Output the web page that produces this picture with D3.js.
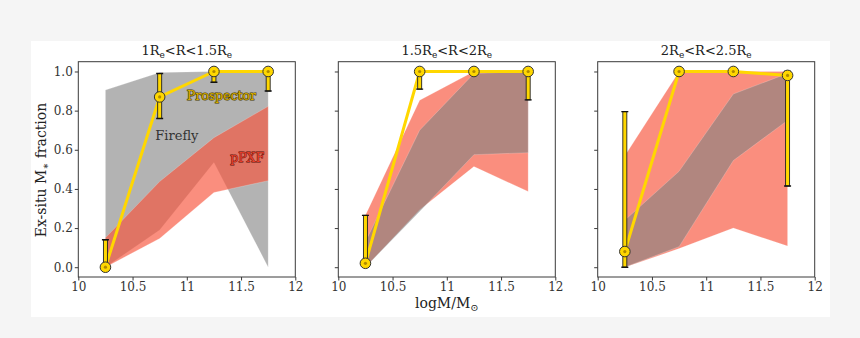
<!DOCTYPE html>
<html>
<head>
<meta charset="utf-8">
<script src="https://cdn.jsdelivr.net/npm/d3@7"></script>
<style>
  html, body { margin: 0; padding: 0; background: #f5f5f5; }
  svg { display: block; }
  text { font-family: "DejaVu Serif", serif; }
</style>
</head>
<body>
<svg id="chart" width="860" height="338"></svg>
<script>
// Stellar-mass bins (log M / M_sun) shared by all three radial panels
const massBins = [10.25, 10.75, 11.25, 11.75];
const panelTitles = [
  ["1R", "e", "<R<1.5R", "e"],
  ["1.5R", "e", "<R<2R", "e"],
  ["2R", "e", "<R<2.5R", "e"]
];
const xTicks = [10, 10.5, 11, 11.5, 12];
const xTickLabels = ["10", "10.5", "11", "11.5", "12"];
const yTicks = [0, 0.2, 0.4, 0.6, 0.8, 1.0];
const yTickLabels = ["0.0", "0.2", "0.4", "0.6", "0.8", "1.0"];

// Prospector ex-situ fractions with asymmetric error ranges
const prospValue = [
  [0.00, 0.87, 1.00, 1.00],
  [0.02, 1.00, 1.00, 1.00],
  [0.08, 1.00, 1.00, 0.98]
];
const prospLow = [
  [0.00, 0.76, 0.945, 0.90],
  [0.02, 0.91, 1.00, 0.855],
  [0.00, 1.00, 1.00, 0.415]
];
const prospHigh = [
  [0.14, 0.99, 1.00, 1.00],
  [0.265, 1.00, 1.00, 1.00],
  [0.795, 1.00, 1.00, 1.00]
];

// Firefly range (grey band)
const fireflyLow = [
  [0.00, 0.19, 0.535, 0.00],
  [0.00, 0.285, 0.575, 0.585],
  [0.00, 0.105, 0.545, 0.75]
];
const fireflyHigh = [
  [0.905, 0.995, 1.00, 1.00],
  [0.13, 0.70, 0.99, 1.00],
  [0.24, 0.49, 0.885, 0.99]
];

// pPXF range (red band)
const ppxfLow = [
  [0.00, 0.147, 0.382, 0.442],
  [0.00, 0.294, 0.514, 0.387],
  [0.00, 0.095, 0.20, 0.108]
];
const ppxfHigh = [
  [0.15, 0.438, 0.662, 0.822],
  [0.266, 0.853, 1.00, 1.00],
  [0.569, 1.00, 1.00, 1.00]
];
// which band sits on top in each panel
const redOnTop = [true, false, false];

const svg = d3.select("#chart");

// white figure area
svg.append("rect").attr("x", 31).attr("y", 41).attr("width", 799).attr("height", 276)
  .attr("fill", "#ffffff");

const panelLeft = [78.3, 338.3, 597.7];
const panelWidth = 217;
const panelTop = 61.7;
const panelHeight = 215.3;

const gold = "#ffd700";

panelLeft.forEach((left, p) => {
  const x = d3.scaleLinear().domain([10, 12]).range([left, left + panelWidth]);
  const y = d3.scaleLinear().domain([-0.05, 1.05]).range([panelTop + panelHeight, panelTop]);
  const g = svg.append("g");

  const clipId = "clip" + p;
  g.append("clipPath").attr("id", clipId).append("rect")
    .attr("x", left).attr("y", panelTop).attr("width", panelWidth).attr("height", panelHeight);
  const plot = g.append("g").attr("clip-path", `url(#${clipId})`);

  const area = (lo, hi) => d3.area()
    .x((d, i) => x(massBins[i]))
    .y0((d, i) => y(lo[i]))
    .y1((d, i) => y(hi[i]))(massBins);

  const drawFirefly = () => plot.append("path")
    .attr("d", area(fireflyLow[p], fireflyHigh[p]))
    .attr("fill", "#808080").attr("fill-opacity", 0.6)
    .attr("stroke", "#ffffff").attr("stroke-opacity", 0.25).attr("stroke-width", 0.8);
  const drawPpxf = () => plot.append("path")
    .attr("d", area(ppxfLow[p], ppxfHigh[p]))
    .attr("fill", "#f8533b").attr("fill-opacity", 0.66)
    .attr("stroke", "#ffffff").attr("stroke-opacity", 0.25).attr("stroke-width", 0.8);

  if (redOnTop[p]) { drawFirefly(); drawPpxf(); } else { drawPpxf(); drawFirefly(); }

  // Prospector connecting line
  plot.append("path")
    .attr("d", d3.line().x((d, i) => x(massBins[i])).y(d => y(d))(prospValue[p]))
    .attr("fill", "none").attr("stroke", gold).attr("stroke-width", 3)
    .attr("stroke-linejoin", "round");

  // error bars: gold bar with dark outline and dark caps
  massBins.forEach((m, i) => {
    const lo = prospLow[p][i], hi = prospHigh[p][i];
    if (hi - lo < 0.005) return;
    const cx = x(m);
    plot.append("rect")
      .attr("x", cx - 2).attr("y", y(hi)).attr("width", 4).attr("height", y(lo) - y(hi))
      .attr("fill", gold).attr("stroke", "#222").attr("stroke-width", 0.9);
    [lo, hi].forEach(v => {
      plot.append("line")
        .attr("x1", cx - 3.5).attr("x2", cx + 3.5).attr("y1", y(v)).attr("y2", y(v))
        .attr("stroke", "#111").attr("stroke-width", 1.4);
    });
  });

  // markers
  massBins.forEach((m, i) => {
    const cx = x(m), cy = y(prospValue[p][i]);
    plot.append("circle").attr("cx", cx).attr("cy", cy).attr("r", 5.3)
      .attr("fill", gold).attr("stroke", "#333").attr("stroke-width", 1);
    plot.append("circle").attr("cx", cx).attr("cy", cy).attr("r", 1.6)
      .attr("fill", "#b08a00");
  });

  // spines
  g.append("rect").attr("x", left).attr("y", panelTop)
    .attr("width", panelWidth).attr("height", panelHeight)
    .attr("fill", "none").attr("stroke", "#3a3a3a").attr("stroke-width", 1);

  // x axis
  const xAxis = d3.axisBottom(x).tickValues(xTicks).tickSize(3.5).tickPadding(2)
    .tickFormat((d, i) => xTickLabels[i]);
  const xg = g.append("g").attr("transform", `translate(0,${panelTop + panelHeight})`).call(xAxis);
  xg.select(".domain").remove();
  xg.selectAll("line").attr("stroke", "#3a3a3a");
  xg.selectAll("text").attr("font-size", 12).attr("fill", "#333")
    .attr("font-family", "DejaVu Serif, serif");

  // y axis (labels only on the first panel)
  const yAxis = d3.axisLeft(y).tickValues(yTicks).tickSize(3.5).tickPadding(2)
    .tickFormat((d, i) => p === 0 ? yTickLabels[i] : "");
  const yg = g.append("g").attr("transform", `translate(${left},0)`).call(yAxis);
  yg.select(".domain").remove();
  yg.selectAll("line").attr("stroke", "#3a3a3a");
  yg.selectAll("text").attr("font-size", 12).attr("fill", "#333")
    .attr("font-family", "DejaVu Serif, serif");

  // title with subscripts
  const t = g.append("text").attr("x", left + panelWidth / 2).attr("y", 55)
    .attr("text-anchor", "middle").attr("font-size", 13).attr("fill", "#222");
  const parts = panelTitles[p];
  t.append("tspan").text(parts[0]);
  t.append("tspan").text(parts[1]).attr("font-size", 9).attr("dy", 3);
  t.append("tspan").text(parts[2]).attr("dy", -3);
  t.append("tspan").text(parts[3]).attr("font-size", 9).attr("dy", 3);

  if (p === 0) {
    g.append("text").attr("x", x(11.0)).attr("y", y(0.853)).text("Prospector")
      .attr("font-size", 12.5).attr("fill", "#d9ae00")
      .attr("stroke", "#4a3c00").attr("stroke-width", 1.1).attr("paint-order", "stroke");
    g.append("text").attr("x", x(10.71)).attr("y", y(0.65)).text("Firefly")
      .attr("font-size", 13).attr("fill", "#333");
    g.append("text").attr("x", x(11.40)).attr("y", y(0.54)).text("pPXF")
      .attr("font-size", 12.5).attr("fill", "#e8402c")
      .attr("stroke", "#5a1008").attr("stroke-width", 0.9).attr("paint-order", "stroke");
  }
});

// y axis label
const yl = svg.append("text").attr("transform", "translate(46,170) rotate(-90)")
  .attr("text-anchor", "middle").attr("font-size", 14).attr("fill", "#222");
yl.append("tspan").text("Ex-situ M");
yl.append("tspan").text("∗").attr("font-size", 10).attr("dy", 3);
yl.append("tspan").text(" fraction").attr("dy", -3);

// x axis label
const xl = svg.append("text").attr("x", 446.8).attr("y", 308)
  .attr("text-anchor", "middle").attr("font-size", 14).attr("fill", "#222");
xl.append("tspan").text("logM/M");
xl.append("tspan").text("⊙").attr("font-size", 10).attr("dy", 3);
</script>
</body>
</html>
